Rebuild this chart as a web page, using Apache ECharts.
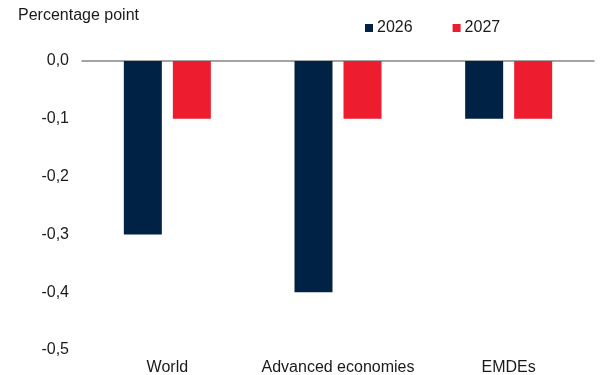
<!DOCTYPE html>
<html>
<head>
<meta charset="utf-8">
<script src="https://cdn.jsdelivr.net/npm/echarts@6/dist/echarts.min.js"></script>
<style>
  html, body { margin: 0; padding: 0; background: #fff; }
  #chart { width: 600px; height: 375px; }
</style>
</head>
<body>
<div id="chart"></div>
<script>
// Change in growth forecast, percentage points
const categories = ['World', 'Advanced economies', 'EMDEs'];
const values2026 = [-0.3, -0.4, -0.1];
const values2027 = [-0.1, -0.1, -0.1];
const yTicks = { min: -0.5, max: 0, step: 0.1 };

const FONT = '"Liberation Sans", Arial, sans-serif';
const TEXT = '#1a1a1a';
const SIZE = 16;

const chart = echarts.init(document.getElementById('chart'), null, { renderer: 'canvas' });

chart.setOption({
  animation: false,
  textStyle: { fontFamily: FONT, color: TEXT },
  graphic: [{
    type: 'text',
    left: 18,
    top: 8,
    style: { text: 'Percentage point', font: SIZE + 'px ' + FONT, fill: TEXT }
  }],
  legend: {
    left: 365,
    top: 20,
    padding: 0,
    itemWidth: 8,
    itemHeight: 8,
    itemGap: 40,
    icon: 'rect',
    textStyle: { fontFamily: FONT, fontSize: SIZE, color: TEXT, padding: [0, 0, 0, -1] },
    data: ['2026', '2027']
  },
  grid: { left: 82, right: 6, top: 61, bottom: 25, containLabel: false, outerBoundsMode: 'none' },
  xAxis: [{
    type: 'category',
    data: categories,
    position: 'bottom',
    axisLine: { show: false },
    axisTick: { show: false },
    axisLabel: { interval: 0, fontFamily: FONT, fontSize: SIZE, color: TEXT, margin: 10 }
  }, {
    type: 'category',
    data: categories,
    position: 'top',
    axisLine: { show: true, onZero: false, lineStyle: { color: '#868686', width: 1.5 } },
    axisTick: { show: false },
    axisLabel: { show: false }
  }],
  yAxis: {
    type: 'value',
    min: yTicks.min,
    max: yTicks.max,
    interval: yTicks.step,
    axisLine: { show: false },
    axisTick: { show: false },
    splitLine: { show: false },
    axisLabel: {
      fontFamily: FONT, fontSize: SIZE, color: TEXT, margin: 13,
      formatter: v => v.toFixed(1).replace('.', ',')
    }
  },
  series: [{
    name: '2026',
    type: 'bar',
    data: values2026,
    barWidth: 38,
    barGap: '29%',
    itemStyle: { color: '#002245' }
  }, {
    name: '2027',
    type: 'bar',
    data: values2027,
    barWidth: 38,
    barGap: '29%',
    itemStyle: { color: '#ED1C2E' }
  }]
});
</script>
</body>
</html>
